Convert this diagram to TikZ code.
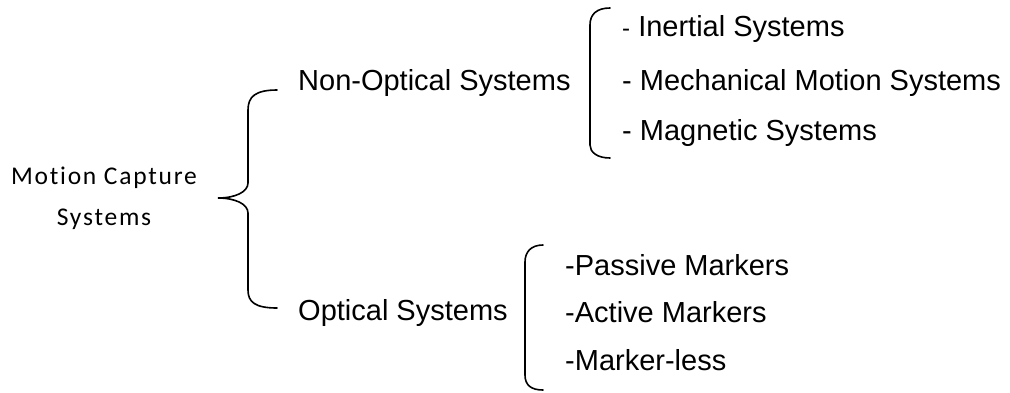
\documentclass[tikz,border=0pt]{standalone}
\usepackage{fontspec}
\setmainfont{Liberation Sans}
\newfontfamily\calfont[LetterSpace=7,Ligatures={NoCommon},RawFeature={-liga;-dlig}]{Carlito}
\begin{document}
\begin{tikzpicture}[x=1pt,y=-1pt,
  lbl/.style={inner sep=0pt,anchor=base west,font=\fontsize{29}{34}\selectfont},
  mcl/.style={inner sep=0pt,anchor=base,font=\calfont\fontsize{25.5}{30}\selectfont},
  brace/.style={draw=black,line width=1.6pt,line cap=round}]
\useasboundingbox (0,0) rectangle (1010,392);
\node[mcl] (mc1) at (104,184) {Motion Capture};
\node[mcl] (mc2) at (104,225) {Systems};
\node[lbl] (no) at (298,90) {Non-Optical Systems};
\node[lbl] (op) at (298,320) {Optical Systems};
\node[lbl] (i1) at (622,36) {{\fontsize{24}{26}\selectfont-} Inertial Systems};
\node[lbl] (i2) at (622,90) {- Mechanical Motion Systems};
\node[lbl] (i3) at (622,140) {- Magnetic Systems};
\node[lbl] (p1) at (565,275) {-Passive Markers};
\node[lbl] (p2) at (565,322) {-Active Markers};
\node[lbl] (p3) at (565,370) {-Marker-less};
\path[brace] (277,90) .. controls (255,90) and (248,97) .. (248,110) -- (248,183)
  .. controls (248,192) and (235,198) .. (218,198)
  .. controls (235,198) and (248,204) .. (248,213) -- (248,290)
  .. controls (248,302) and (255,308) .. (277,308);
\path[brace] (610,8) .. controls (597,8) and (590,14) .. (590,25) -- (590,145)
  .. controls (590,152) and (597,158) .. (610,158);
\path[brace] (543,245) .. controls (531,245) and (525,252) .. (525,262) -- (525,375)
  .. controls (525,385) and (531,390) .. (543,390);
\end{tikzpicture}
\end{document}
